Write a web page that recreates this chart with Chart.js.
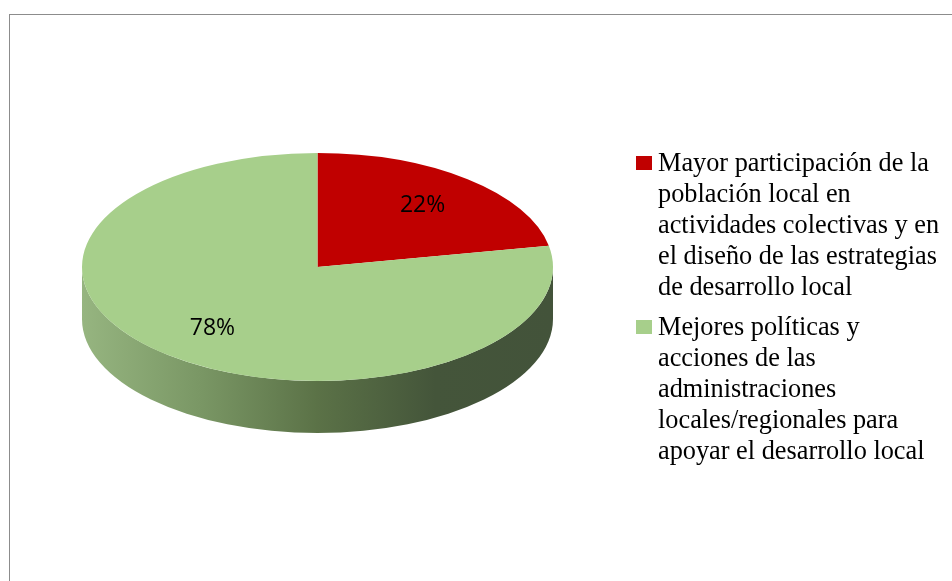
<!DOCTYPE html>
<html>
<head>
<meta charset="utf-8">
<script src="https://cdn.jsdelivr.net/npm/chart.js@4/dist/chart.umd.min.js"></script>
<style>
  html, body { margin: 0; padding: 0; background: #fff; overflow: hidden; }
  #wrap { position: relative; width: 952px; height: 581px; overflow: hidden; }
  #marco { position: absolute; left: 9px; top: 14px; width: 1200px; height: 900px; border: 1px solid #8c8c8c; box-sizing: border-box; }
  canvas { position: absolute; left: 0; top: 0; }
  #leyenda { position: absolute; left: 636px; top: 147px; font-family: "Liberation Serif", "Times New Roman", serif; font-size: 26.3px; line-height: 31px; color: #000; }
  .item { display: flex; align-items: flex-start; margin-bottom: 9px; }
  .caja { width: 16px; height: 14px; margin-top: 9px; margin-right: 6px; flex: none; }
  .texto { white-space: nowrap; }
</style>
</head>
<body>
<div id="wrap">
  <div id="marco"></div>
  <canvas id="grafico" width="952" height="581"></canvas>
  <div id="leyenda"></div>
</div>
<script>
// ========== DATOS ==========
const categorias = [
  ["Mayor participación de la", "población local en", "actividades colectivas y en", "el diseño de las estrategias", "de desarrollo local"],
  ["Mejores políticas y", "acciones de las", "administraciones", "locales/regionales para", "apoyar el desarrollo local"]
];
const porcentajes = [22, 78];
const coloresTapa = ["#C00000", "#A7CF8B"];

// ========== ESTILO 3D ==========
const INCLINACION = 0.484;   // alto/ancho de la elipse superior
const GROSOR = 52;           // alto del borde lateral
const coloresLado = [
  ["#8a0000", "#6a0000", "#500000"],
  ["#96b580", "#7a9765", "#5b7247", "#44553a", "#43533a"]
];

// ========== LEYENDA ==========
const leyenda = document.getElementById("leyenda");
categorias.forEach((lineas, i) => {
  const item = document.createElement("div");
  item.className = "item";
  item.innerHTML = `<div class="caja" style="background:${coloresTapa[i]}"></div><div class="texto">${lineas.join("<br>")}</div>`;
  leyenda.appendChild(item);
});

// ========== PLUGIN PASTEL 3D ==========
const pastel3D = {
  id: "pastel3D",
  beforeDatasetsDraw(chart) {
    const ctx = chart.ctx;
    const arcos = chart.getDatasetMeta(0).data;
    const { x: cx, y: cy, outerRadius: R } = arcos[0];

    ctx.save();
    // lados visibles (mitad frontal)
    arcos.forEach((arco, i) => {
      const a1 = Math.max(arco.startAngle, 0);
      const a2 = Math.min(arco.endAngle, Math.PI);
      if (a2 <= a1) return;
      const grad = ctx.createLinearGradient(cx - R, 0, cx + R, 0);
      const stops = coloresLado[i];
      stops.forEach((c, k) => grad.addColorStop(k / (stops.length - 1), c));
      ctx.beginPath();
      ctx.ellipse(cx, cy, R, R * INCLINACION, 0, a1, a2, false);
      ctx.ellipse(cx, cy + GROSOR, R, R * INCLINACION, 0, a2, a1, true);
      ctx.closePath();
      ctx.fillStyle = grad;
      ctx.fill();
    });

    // aplastar la tapa
    ctx.translate(0, cy);
    ctx.scale(1, INCLINACION);
    ctx.translate(0, -cy);
  },
  afterDatasetsDraw(chart) {
    const ctx = chart.ctx;
    ctx.restore();

    const arcos = chart.getDatasetMeta(0).data;
    ctx.save();
    ctx.font = '23px "Open Sans", sans-serif';
    ctx.fillStyle = "#000";
    ctx.textAlign = "center";
    ctx.textBaseline = "middle";
    arcos.forEach((arco, i) => {
      const medio = (arco.startAngle + arco.endAngle) / 2;
      const r = arco.outerRadius * 0.7;
      const x = arco.x + Math.cos(medio) * r;
      const y = arco.y + Math.sin(medio) * r * INCLINACION;
      ctx.fillText(porcentajes[i] + "%", x, y);
    });
    ctx.restore();
  }
};

new Chart(document.getElementById("grafico"), {
  type: "pie",
  data: {
    labels: categorias.map(l => l.join(" ")),
    datasets: [{
      data: porcentajes,
      backgroundColor: coloresTapa,
      borderWidth: 0,
      clip: false
    }]
  },
  options: {
    responsive: false,
    animation: false,
    events: [],
    layout: { padding: { left: 82, right: 399, top: 31.5, bottom: 78.5 } },
    plugins: {
      legend: { display: false },
      tooltip: { enabled: false }
    }
  },
  plugins: [pastel3D]
});
</script>
</body>
</html>
